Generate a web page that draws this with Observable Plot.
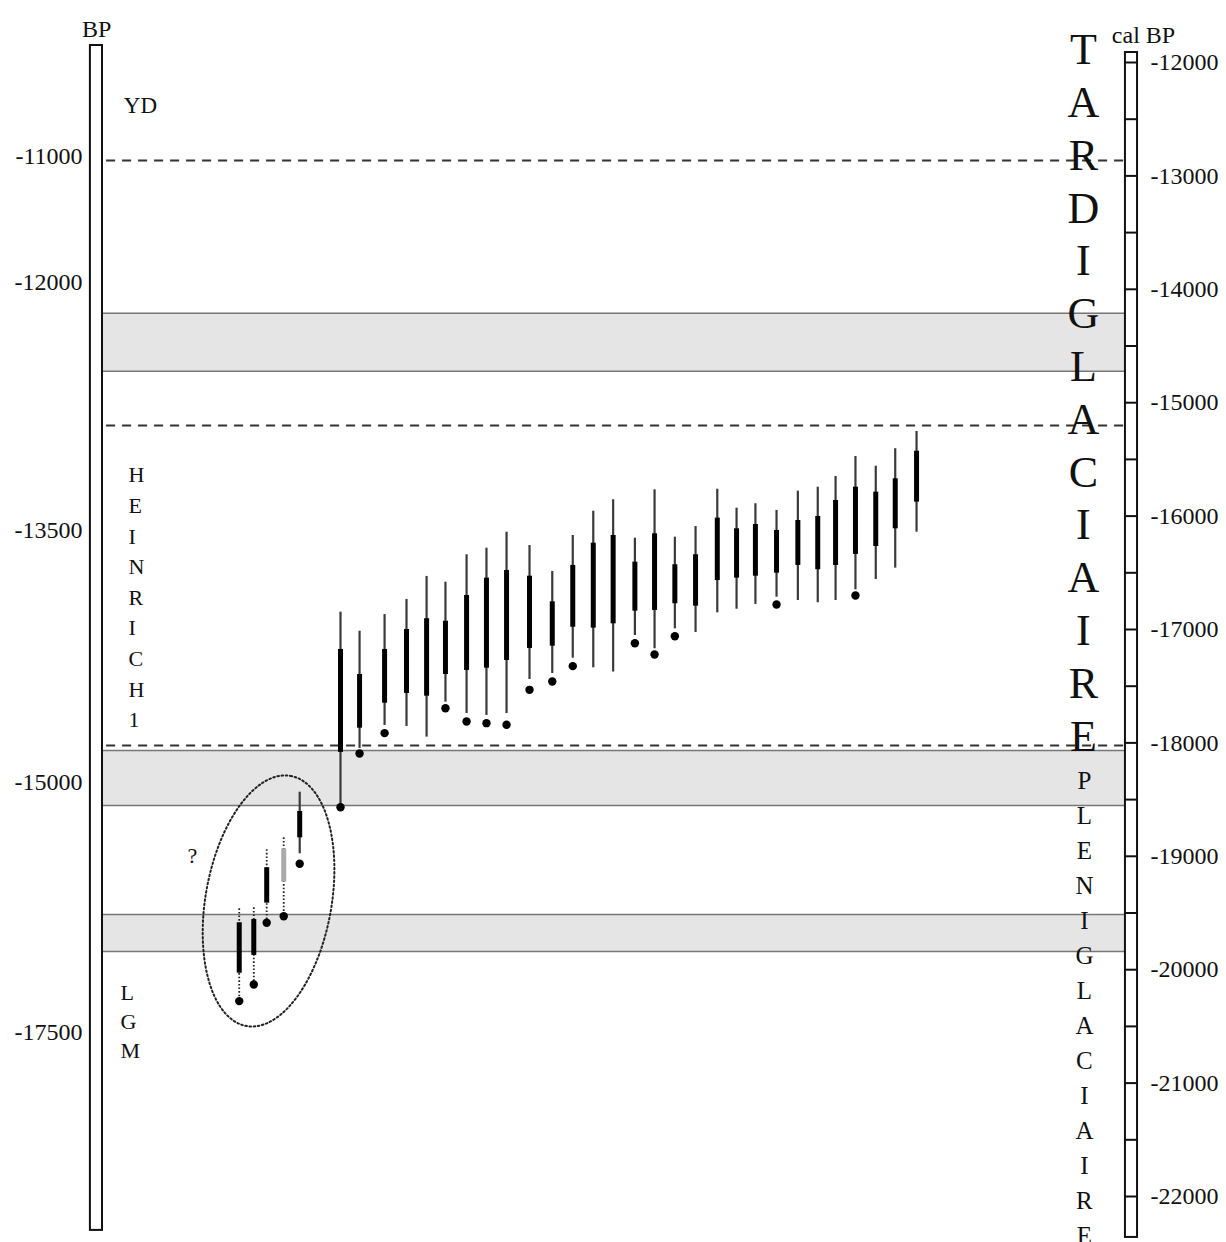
<!DOCTYPE html>
<html><head><meta charset="utf-8">
<script src="https://cdn.jsdelivr.net/npm/d3@7"></script>
<script src="https://cdn.jsdelivr.net/npm/@observablehq/plot@0.6"></script>
<style>html,body{margin:0;padding:0;background:#fff}svg{display:block}</style>
</head><body><div id="chart"></div>
<script>
// ---- DATA (ages in cal BP, negative = before present) ----
// sample order along the sequence (first five: the circled LGM group)
const samplePos = [-4.94, -4.23, -3.6, -2.77, -1.99,
  0, 0.93, 2.15, 3.22, 4.2, 5.12, 6.15, 7.12, 8.1, 9.22, 10.33, 11.33, 12.33, 13.3,
  14.36, 15.32, 16.31, 17.32, 18.38, 19.32, 20.24, 21.27, 22.31, 23.28, 24.15, 25.12, 26.11, 27.06, 28.1];
const whiskerTop = [-19463, -19454, -18942, -18837, -18435,
  -16847, -17015, -16868, -16735, -16532, -16583, -16341, -16283, -16142, -16259, -16488, -16171, -15957, -15856,
  -16195, -15768, -16186, -16092, -15763, -15930, -15891, -15950, -15780, -15745, -15651, -15474, -15560, -15406, -15254];
const boxTop = [-19586, -19557, -19101, -18934, -18605,
  -17176, -17397, -17176, -17000, -16905, -16927, -16700, -16547, -16480, -16530, -16756, -16435, -16239, -16171,
  -16406, -16156, -16429, -16341, -16018, -16112, -16074, -16127, -16039, -16003, -15862, -15745, -15789, -15671, -15428];
const boxBottom = [-20031, -19874, -19413, -19228, -18837,
  -18084, -17870, -17650, -17564, -17588, -17397, -17361, -17341, -17273, -17167, -17147, -16980, -16988, -16950,
  -16838, -16832, -16773, -16794, -16568, -16547, -16530, -16503, -16435, -16473, -16435, -16338, -16268, -16112, -15877];
const whiskerBottom = [-20277, -20130, -19586, -19528, -18978,
  -18567, -18049, -17846, -17855, -17949, -17641, -17741, -17758, -17741, -17441, -17388, -17253, -17338, -17375,
  -17053, -17170, -16994, -17026, -16853, -16821, -16779, -16715, -16744, -16764, -16744, -16650, -16559, -16459, -16142];
const dotAge = [-20277, -20130, -19586, -19528, -19066,
  -18567, -18093, -17914, null, null, -17694, -17811, -17826, -17840, -17532, -17458, -17323, null, null,
  -17121, -17220, -17059, null, null, null, null, -16779, null, null, null, -16700, null, null, null];
const sampleStatus = ["doubtful", "doubtful", "doubtful", "doubtful-grey", "dated",
  "dated","dated","dated","dated","dated","dated","dated","dated","dated","dated","dated","dated","dated","dated",
  "dated","dated","dated","dated","dated","dated","dated","dated","dated","dated","dated","dated","dated","dated","dated"];

// right axis (cal BP) labels and minor ticks
const calTickLabels = [-12000, -13000, -14000, -15000, -16000, -17000, -18000, -19000, -20000, -21000, -22000];
const calMinorTicks = [-12000, -12500, -13000, -13500, -14000, -14500, -15000, -15500, -16000, -16500, -17000,
  -17500, -18000, -18500, -19000, -19500, -20000, -20500, -21000, -21500, -22000];
// left axis (radiocarbon BP) labels and their cal BP equivalents
const bpTickLabels = [-11000, -12000, -13500, -15000, -17500];
const bpTickCal = [-12829, -13937, -16127, -18349, -20551];
// boundaries
const dashedAges = [-12864, -15201, -18023];
const bandTop = [-14211, -18067, -19513];
const bandBottom = [-14722, -18552, -19839];

// ---- LAYOUT ----
const X = {domain: [0, 28], range: [340, 914]};
const Y = {domain: [-12000, -22000], range: [62, 1196]};
const pxPerPos = (X.range[1] - X.range[0]) / (X.domain[1] - X.domain[0]);
const pxPerYear = (Y.range[1] - Y.range[0]) / Math.abs(Y.domain[1] - Y.domain[0]);
const LEFT_AX = [-12.2, -11.61], RIGHT_AX = [38.29, 38.88];
const INNER = [LEFT_AX[1], RIGHT_AX[0]];
const font = '"Liberation Serif", "Times New Roman", Times, serif';

const samples = samplePos.map((x, i) => ({x, wt: whiskerTop[i], bt: boxTop[i], bb: boxBottom[i], wb: whiskerBottom[i], dot: dotAge[i], status: sampleStatus[i]}));
const solid = samples.filter(d => d.status === "dated");
const dotted = samples.filter(d => d.status !== "dated");

// ellipse around the LGM group (shape annotation)
const ec = {x: -3.51, y: -19394}, ea = 127, eb = 63, th = 10 * Math.PI / 180;
const ellipse = d3.range(0, 361, 2).map(deg => {
  const t = deg * Math.PI / 180, u = ea * Math.cos(t), v = eb * Math.sin(t);
  const dx = u * Math.sin(th) + v * Math.cos(th), dy = -u * Math.cos(th) + v * Math.sin(th);
  return {x: ec.x + dx / pxPerPos, y: ec.y - dy / pxPerYear};
});

const txt = (s, x, y, o = {}) => Plot.text([s], {x: () => x, y: () => y, text: d => d, fill: "#111", fontFamily: font, ...o});

const chart = Plot.plot({
  width: 1226, height: 1242, margin: 0,
  x: {...X, axis: null}, y: {...Y, axis: null},
  style: {fontFamily: font, background: "white"},
  marks: [
    Plot.rect(bandTop.map((t, i) => i), {x1: () => INNER[0], x2: () => INNER[1], y1: i => bandTop[i], y2: i => bandBottom[i], fill: "#e5e5e5"}),
    Plot.ruleY([...bandTop, ...bandBottom], {x1: () => INNER[0], x2: () => INNER[1], stroke: "#777", strokeWidth: 1.5}),
    Plot.ruleY(dashedAges, {x1: () => INNER[0] + 0.2, x2: () => INNER[1], stroke: "#333", strokeWidth: 2.2, strokeDasharray: "9,7"}),
    // axes bars
    Plot.rect([0], {x1: () => LEFT_AX[0], x2: () => LEFT_AX[1], y1: () => -11850, y2: () => -22299, fill: "white", stroke: "#111", strokeWidth: 2}),
    Plot.rect([0], {x1: () => RIGHT_AX[0], x2: () => RIGHT_AX[1], y1: () => -11912, y2: () => -22361, fill: "white", stroke: "#111", strokeWidth: 2}),
    Plot.ruleY(calMinorTicks, {x1: () => RIGHT_AX[0], x2: () => RIGHT_AX[1], stroke: "#111", strokeWidth: 2}),
    Plot.text(calTickLabels, {x: () => 39.51, y: d => d, text: d => String(d), textAnchor: "start", fontSize: 24, fill: "#111", fontFamily: font}),
    Plot.text(bpTickLabels.map((b, i) => i), {x: () => -12.585, y: i => bpTickCal[i], text: i => String(bpTickLabels[i]), textAnchor: "end", fontSize: 24, fill: "#111", fontFamily: font}),
    txt("BP", -11.9, -11709, {fontSize: 24}),
    txt("cal BP", 39.17, -11758, {fontSize: 24}),
    txt("YD", -9.76, -12379, {fontSize: 23}),
    txt("H\nE\nI\nN\nR\nI\nC\nH\n1", -10.34, -16696, {fontSize: 22, lineHeight: 1.39, textAnchor: "start"}),
    txt("L\nG\nM", -10.73, -20441, {fontSize: 22, lineHeight: 1.33, textAnchor: "start"}),
    txt("?", -7.22, -19001, {fontSize: 22}),
    txt("T\nA\nR\nD\nI\nG\nL\nA\nC\nI\nA\nI\nR\nE", 36.24, -14892, {fontSize: 44, lineHeight: 1.2}),
    txt("P\nL\nE\nN\nI\nG\nL\nA\nC\nI\nA\nI\nR\nE", 36.29, -20311, {fontSize: 25, lineHeight: 1.4}),
    // ellipse
    Plot.line(ellipse, {x: "x", y: "y", stroke: "#222", strokeWidth: 2, strokeDasharray: "1.6,2.6"}),
    // samples
    Plot.ruleX(solid, {x: "x", y1: "wt", y2: "wb", stroke: "#3a3a3a", strokeWidth: 2.2}),
    Plot.ruleX(dotted, {x: "x", y1: "wt", y2: "wb", stroke: "#222", strokeWidth: 1.8, strokeDasharray: "1.6,2"}),
    Plot.ruleX(samples.filter(d => d.status !== "doubtful-grey"), {x: "x", y1: "bt", y2: "bb", stroke: "#000", strokeWidth: 5}),
    Plot.ruleX(samples.filter(d => d.status === "doubtful-grey"), {x: "x", y1: "bt", y2: "bb", stroke: "#aaa", strokeWidth: 5}),
    Plot.dot(samples.filter(d => d.dot != null), {x: "x", y: "dot", r: 4.2, fill: "#000", stroke: "none"})
  ]
});
document.getElementById("chart").appendChild(chart);
</script>
</body></html>
